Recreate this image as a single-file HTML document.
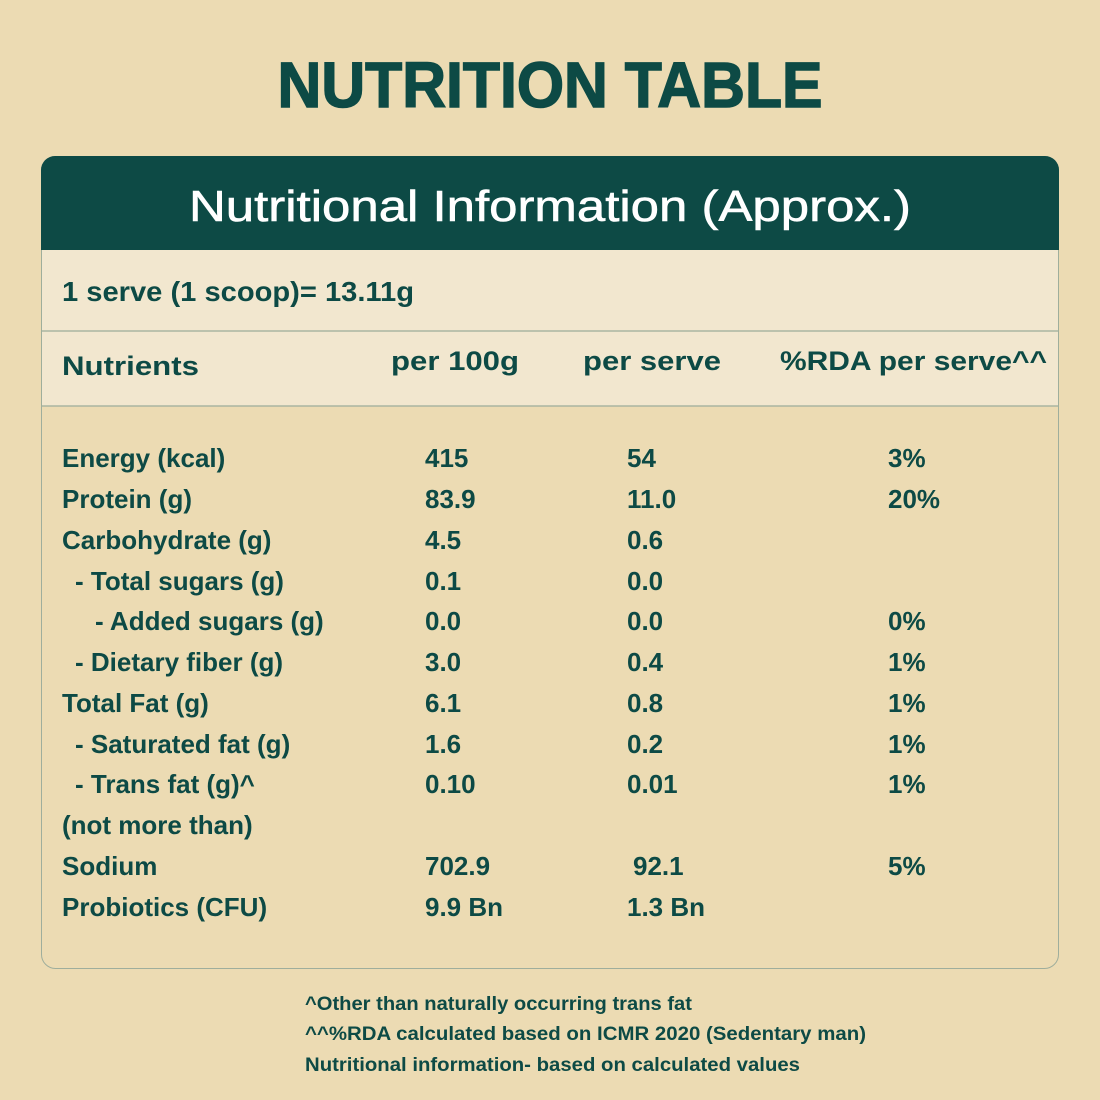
<!DOCTYPE html>
<html><head><meta charset="utf-8"><style>
html,body{margin:0;padding:0;background:#ecdbb3;}
svg{display:block}
text{font-family:"Liberation Sans",sans-serif;fill:#0d4a45;}
</style></head><body>
<svg width="1100" height="1100" viewBox="0 0 1100 1100">
<rect width="1100" height="1100" fill="#ecdbb3"/>
<text x="550" y="107" text-anchor="middle" font-size="64" font-weight="bold" textLength="545" lengthAdjust="spacingAndGlyphs" stroke="#0d4a45" stroke-width="1.5">NUTRITION TABLE</text>
<rect x="41.5" y="156.5" width="1017" height="812" rx="14" fill="#ecdbb3" stroke="#9fae9c" stroke-width="1"/>
<path d="M41 170 a14 14 0 0 1 14 -14 H1045 a14 14 0 0 1 14 14 V250 H41 Z" fill="#0d4a45"/>
<rect x="42" y="250" width="1016" height="156" fill="#f2e7cf"/>
<line x1="42" y1="331" x2="1058" y2="331" stroke="#a9b5a2" stroke-width="1.5"/>
<line x1="42" y1="406" x2="1058" y2="406" stroke="#a9b5a2" stroke-width="1.5"/>
<text x="550" y="221" text-anchor="middle" font-size="44" style="fill:#fff" stroke="#fff" stroke-width="0.6" textLength="722" lengthAdjust="spacingAndGlyphs">Nutritional Information (Approx.)</text>
<text x="62" y="301" font-size="28" font-weight="bold" textLength="352" lengthAdjust="spacingAndGlyphs">1 serve (1 scoop)= 13.11g</text>
<g font-size="27" font-weight="bold">
<text x="62" y="375" textLength="137" lengthAdjust="spacingAndGlyphs">Nutrients</text>
<text x="391" y="370" textLength="128" lengthAdjust="spacingAndGlyphs">per 100g</text>
<text x="583" y="370" textLength="138" lengthAdjust="spacingAndGlyphs">per serve</text>
<text x="780" y="370" textLength="267" lengthAdjust="spacingAndGlyphs">%RDA per serve^^</text>
</g>
<g font-size="26" font-weight="bold">
<text x="62" y="467">Energy (kcal)</text><text x="425" y="467">415</text><text x="627" y="467">54</text><text x="888" y="467">3%</text>
<text x="62" y="508">Protein (g)</text><text x="425" y="508">83.9</text><text x="627" y="508">11.0</text><text x="888" y="508">20%</text>
<text x="62" y="549">Carbohydrate (g)</text><text x="425" y="549">4.5</text><text x="627" y="549">0.6</text>
<text x="75" y="590">- Total sugars (g)</text><text x="425" y="590">0.1</text><text x="627" y="590">0.0</text>
<text x="95" y="630">- Added sugars (g)</text><text x="425" y="630">0.0</text><text x="627" y="630">0.0</text><text x="888" y="630">0%</text>
<text x="75" y="671">- Dietary fiber (g)</text><text x="425" y="671">3.0</text><text x="627" y="671">0.4</text><text x="888" y="671">1%</text>
<text x="62" y="712">Total Fat (g)</text><text x="425" y="712">6.1</text><text x="627" y="712">0.8</text><text x="888" y="712">1%</text>
<text x="75" y="753">- Saturated fat (g)</text><text x="425" y="753">1.6</text><text x="627" y="753">0.2</text><text x="888" y="753">1%</text>
<text x="75" y="793">- Trans fat (g)^</text><text x="425" y="793">0.10</text><text x="627" y="793">0.01</text><text x="888" y="793">1%</text>
<text x="62" y="834">(not more than)</text>
<text x="62" y="875">Sodium</text><text x="425" y="875">702.9</text><text x="633" y="875">92.1</text><text x="888" y="875">5%</text>
<text x="62" y="916">Probiotics (CFU)</text><text x="425" y="916">9.9 Bn</text><text x="627" y="916">1.3 Bn</text>
</g>
<g font-size="19" font-weight="bold">
<text x="305" y="1010" textLength="387" lengthAdjust="spacingAndGlyphs">^Other than naturally occurring trans fat</text>
<text x="305" y="1040" textLength="561" lengthAdjust="spacingAndGlyphs">^^%RDA calculated based on ICMR 2020 (Sedentary man)</text>
<text x="305" y="1071" textLength="495" lengthAdjust="spacingAndGlyphs">Nutritional information- based on calculated values</text>
</g>
</svg>
</body></html>
